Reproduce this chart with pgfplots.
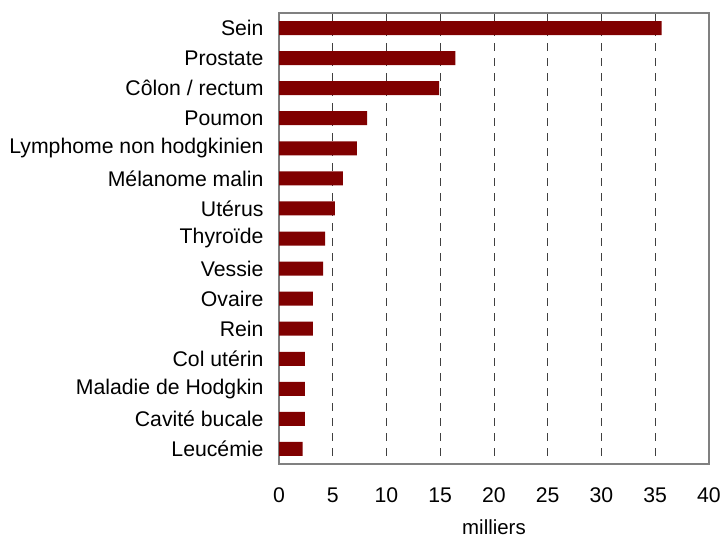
\documentclass[border=0pt]{standalone}
\usepackage{fontspec}
\setmainfont{Liberation Sans}
\usepackage{pgfplots}
\pgfplotsset{compat=1.18}
\begin{document}
\begin{tikzpicture}
\useasboundingbox (0,0) rectangle (722bp,540bp);
\begin{axis}[
  at={(279bp,76bp)}, anchor=south west,
  scale only axis, width=430bp, height=451bp,
  xbar, bar width=14bp,
  xmin=0, xmax=40, xtick={0,5,...,40},
  ymin=-0.5, ymax=14.5, y dir=reverse,
  ytick={0,...,14},
  yticklabels={Sein,Prostate,Côlon / rectum,Poumon,Lymphome non hodgkinien,Mélanome malin,Utérus,Thyroïde,Vessie,Ovaire,Rein,Col utérin,Maladie de Hodgkin,Cavité bucale,Leucémie},
  major tick length=0pt,
  axis line style={draw=gray, line width=1.5bp},
  xmajorgrids, major grid style={black!75, dash pattern=on 8bp off 7bp, line width=0.8bp},
  yticklabel style={font=\fontsize{21.3}{25}\selectfont, xshift=-12bp},
  xticklabel style={font=\fontsize{21.3}{25}\selectfont, yshift=-20bp},
  /pgf/number format/assume math mode=true,
  xlabel={milliers}, xlabel style={font=\fontsize{20.5}{24}\selectfont, yshift=-10bp},
]
\addplot[fill={rgb,255:red,128;green,0;blue,0}, draw=none] coordinates {
(35.6,0) (16.4,1) (14.9,2) (8.2,3) (7.25,4) (5.95,5) (5.2,6) (4.3,7) (4.1,8) (3.15,9) (3.15,10) (2.4,11) (2.4,12) (2.4,13) (2.2,14)
};
\end{axis}
\end{tikzpicture}
\end{document}
